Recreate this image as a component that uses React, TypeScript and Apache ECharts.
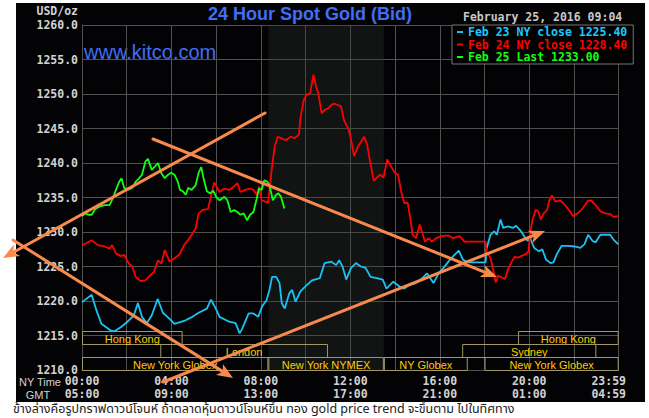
import React, { useEffect, useRef } from 'react';
import * as echarts from 'echarts';

// ---- Data (minutes after 00:00 NY time, price USD/oz) ----
const feb23Name = 'Feb 23 NY close 1225.40';
const feb24Name = 'Feb 24 NY close 1228.40';
const feb25Name = 'Feb 25 Last 1233.00';

const feb23: [number, number][] = [
  [0, 1219.8], [9, 1220.2], [26, 1220.9], [39, 1218.6], [52, 1216.7], [78, 1215.7], [87, 1215.6],
  [104, 1216.2], [122, 1217.0], [139, 1217.9], [150, 1219.7], [161, 1217.7], [174, 1216.8],
  [187, 1217.9], [203, 1220.3], [217, 1218.3], [235, 1217.4], [248, 1216.7], [261, 1216.9],
  [278, 1217.2], [296, 1217.7], [313, 1218.3], [335, 1218.9], [346, 1220.2], [357, 1219.1],
  [369, 1217.7], [395, 1217.0], [412, 1216.8], [423, 1215.3], [430, 1216.0], [447, 1218.2],
  [460, 1218.2], [473, 1217.7], [483, 1219.2], [495, 1220.1], [503, 1221.6], [510, 1223.5],
  [521, 1223.5], [530, 1222.6], [536, 1219.7], [544, 1218.9], [556, 1221.1], [564, 1221.6],
  [573, 1219.9], [586, 1221.4], [603, 1222.3], [617, 1223.0], [638, 1223.3], [651, 1225.5],
  [669, 1225.7], [682, 1225.2], [690, 1225.9], [699, 1225.0], [709, 1223.1], [722, 1224.8],
  [735, 1225.5], [748, 1225.0], [761, 1224.8], [774, 1223.5], [791, 1223.3], [807, 1223.1],
  [817, 1221.8], [835, 1222.8], [852, 1222.1], [865, 1221.8], [878, 1222.3], [896, 1222.6],
  [913, 1223.3], [926, 1224.0], [943, 1222.6], [957, 1224.0], [970, 1224.8], [983, 1225.7],
  [996, 1226.5], [1011, 1227.3], [1022, 1226.0], [1035, 1225.6], [1083, 1225.6], [1085, 1227.5],
  [1096, 1229.6], [1106, 1230.1], [1113, 1229.6], [1123, 1231.8], [1130, 1230.6], [1143, 1230.8],
  [1157, 1230.6], [1165, 1230.9], [1178, 1230.1], [1190, 1229.1], [1196, 1228.7], [1203, 1229.1],
  [1213, 1227.7], [1226, 1227.2], [1235, 1227.5], [1245, 1226.0], [1257, 1225.5], [1265, 1225.6],
  [1274, 1226.8], [1287, 1228.0], [1304, 1228.0], [1322, 1227.9], [1337, 1227.7], [1348, 1228.2],
  [1358, 1229.6], [1370, 1228.7], [1378, 1228.5], [1391, 1229.6], [1404, 1229.6], [1417, 1229.6],
  [1426, 1228.9], [1439, 1228.2],
];

const feb24: [number, number][] = [
  [0, 1228.1], [9, 1228.3], [26, 1228.8], [43, 1228.1], [61, 1227.9], [74, 1227.6], [81, 1228.1],
  [91, 1226.9], [104, 1226.5], [113, 1226.7], [126, 1225.4], [135, 1225.0], [144, 1223.5],
  [157, 1222.9], [170, 1223.0], [183, 1223.7], [193, 1224.2], [204, 1225.9], [213, 1225.4],
  [222, 1227.4], [235, 1225.7], [248, 1226.2], [261, 1226.7], [274, 1228.1], [291, 1229.3],
  [305, 1230.5], [313, 1232.7], [324, 1233.2], [338, 1233.3], [348, 1235.6], [355, 1237.2],
  [369, 1235.8], [382, 1236.3], [395, 1236.1], [408, 1236.6], [417, 1237.1], [425, 1235.8],
  [438, 1236.1], [451, 1236.3], [460, 1236.1], [469, 1235.4], [475, 1236.6], [482, 1234.6],
  [492, 1234.4], [499, 1234.2], [503, 1236.1], [510, 1239.5], [517, 1242.4], [525, 1243.8],
  [534, 1243.6], [547, 1243.3], [560, 1243.8], [570, 1243.6], [582, 1244.1], [586, 1246.5],
  [595, 1249.1], [603, 1249.9], [612, 1250.1], [621, 1252.8], [628, 1251.1], [634, 1250.1],
  [643, 1247.2], [651, 1247.7], [660, 1247.9], [669, 1248.4], [677, 1248.6], [686, 1248.4],
  [695, 1248.2], [703, 1246.2], [715, 1244.9], [722, 1243.4], [730, 1241.0], [739, 1242.2],
  [750, 1243.2], [757, 1243.8], [765, 1242.7], [772, 1240.5], [783, 1237.4], [791, 1237.9],
  [800, 1238.3], [809, 1237.9], [819, 1240.5], [828, 1239.6], [839, 1238.6], [848, 1238.3],
  [857, 1235.7], [865, 1234.2], [874, 1234.2], [880, 1232.3], [887, 1229.6], [896, 1229.1],
  [906, 1231.1], [913, 1229.9], [920, 1228.6], [930, 1229.1], [939, 1228.6], [950, 1229.1],
  [965, 1229.4], [983, 1229.5], [996, 1229.1], [1013, 1229.4], [1026, 1228.6], [1083, 1228.6],
  [1085, 1227.0], [1096, 1226.3], [1103, 1224.6], [1110, 1222.7], [1117, 1223.7], [1126, 1223.4],
  [1135, 1223.2], [1143, 1224.6], [1152, 1225.6], [1161, 1226.4], [1170, 1226.3], [1178, 1226.5],
  [1191, 1226.8], [1198, 1227.2], [1203, 1230.1], [1209, 1231.8], [1217, 1233.2], [1224, 1233.0],
  [1231, 1231.8], [1239, 1232.7], [1248, 1233.2], [1254, 1234.6], [1261, 1235.3], [1270, 1234.4],
  [1283, 1234.6], [1296, 1233.9], [1309, 1233.0], [1317, 1232.3], [1330, 1232.7], [1343, 1233.4],
  [1357, 1234.5], [1365, 1234.6], [1378, 1233.9], [1391, 1233.0], [1404, 1232.7], [1417, 1232.6],
  [1426, 1232.2], [1439, 1232.3],
];

const feb25: [number, number][] = [
  [0, 1232.3], [9, 1232.7], [17, 1232.5], [26, 1232.5], [35, 1233.3], [48, 1233.7], [61, 1233.9],
  [74, 1233.9], [83, 1234.9], [91, 1236.1], [100, 1237.3], [106, 1237.8], [113, 1236.4],
  [122, 1236.1], [135, 1236.4], [144, 1237.3], [152, 1237.7], [161, 1238.3], [170, 1240.2],
  [177, 1240.6], [187, 1239.0], [196, 1239.5], [204, 1240.0], [213, 1238.5], [222, 1237.8],
  [231, 1238.3], [239, 1238.6], [248, 1238.3], [257, 1237.3], [263, 1236.1], [271, 1235.9],
  [278, 1235.4], [285, 1236.4], [294, 1236.1], [305, 1236.8], [313, 1238.6], [320, 1239.4],
  [326, 1237.8], [335, 1235.9], [344, 1235.6], [352, 1236.0], [360, 1235.1], [369, 1234.6],
  [382, 1235.1], [390, 1234.6], [399, 1232.9], [408, 1233.2], [417, 1232.9], [425, 1232.5],
  [434, 1232.7], [443, 1231.7], [451, 1232.5], [460, 1232.9], [469, 1234.9], [475, 1236.3],
  [482, 1236.1], [489, 1237.5], [497, 1237.3], [503, 1236.8], [508, 1235.6], [512, 1234.6],
  [521, 1235.4], [527, 1235.6], [534, 1235.1], [543, 1233.4],
];

// NYMEX pit session shading (minutes)
const nymexStart = 500;
const nymexEnd = 810;

// Market sessions: name, start, end, row (0 = top)
const sessionNames = ['Hong Kong', 'Hong Kong', 'London', 'Sydney', 'New York Globex', 'New York NYMEX', 'NY Globex', 'New York Globex'];
const sessionStarts = [0, 1170, 210, 1020, 0, 500, 810, 1080];
const sessionEnds = [270, 1440, 660, 1380, 500, 810, 1035, 1440];
const sessionRows = [0, 0, 1, 1, 2, 2, 2, 2];

const nyTimeLabels = ['00:00', '04:00', '08:00', '12:00', '16:00', '20:00', '23:59'];
const gmtLabels = ['05:00', '09:00', '13:00', '17:00', '21:00', '01:00', '04:59'];

const titleText = '24 Hour Spot Gold (Bid)';
const siteText = 'www.kitco.com';
const dateText = 'February 25, 2016 09:04';
const unitText = 'USD/oz';
const thaiText = 'ข้างล่างคือรูปกราฟดาวน์โจนห์ ถ้าตลาดหุ้นดาวน์โจนห์ขึ้น ทอง gold price trend จะขึ้นตาม ไปในทิศทาง';

// hand-drawn annotation arrows (pixel coordinates): [x1, y1, tipX, tipY]
const arrows = [
  [265, 113, 3, 258],
  [13, 240, 233, 378],
  [153, 139, 497, 277],
  [163, 382, 545, 231],
];

const MONO = '"DejaVu Sans Mono", monospace';
const SANS = '"Liberation Sans", Arial, sans-serif';
const GREY = '#d2d2d2';
const GRID = '#505050';
const BLUE = '#19c3f5';
const RED = '#ff0000';
const GREEN = '#11ff11';
const ORANGE = '#f78a4c';

function arrowGraphics(a: number[]) {
  const [x1, y1, x2, y2] = a;
  const dx = x2 - x1, dy = y2 - y1;
  const len = Math.hypot(dx, dy);
  const ux = dx / len, uy = dy / len;
  const L = 16, W = 6.5;
  const bx = x2 - ux * L, by = y2 - uy * L;
  const nx = x2 - ux * (L - 4), ny = y2 - uy * (L - 4);
  return [
    {
      type: 'line', z: 100, silent: true,
      shape: { x1, y1, x2: nx, y2: ny },
      style: { stroke: ORANGE, lineWidth: 3, lineCap: 'round' },
    },
    {
      type: 'polygon', z: 100, silent: true,
      shape: { points: [[x2, y2], [bx - uy * W, by + ux * W], [nx, ny], [bx + uy * W, by - ux * W]] },
      style: { fill: ORANGE },
    },
  ];
}

export default function App() {
  const ref = useRef<HTMLDivElement>(null);
  useEffect(() => {
    if (!ref.current) return;
    const chart = echarts.init(ref.current, null, { renderer: 'svg' });
    const sessionData = sessionNames.map((_, i) => [sessionStarts[i], sessionEnds[i], sessionRows[i]]);
    const labelStyle = { color: GREY, fontFamily: MONO, fontWeight: 'bold' as const, fontSize: 11.5, lineHeight: 12.5 };

    chart.setOption({
      animation: false,
      backgroundColor: 'transparent',
      grid: { left: 82, right: 14, top: 25, bottom: 48 },
      xAxis: {
        type: 'value', min: 0, max: 1440, interval: 120,
        axisLine: { show: true, lineStyle: { color: GRID } },
        axisTick: { show: false },
        splitLine: { show: true, lineStyle: { color: GRID, width: 1 } },
        axisLabel: {
          ...labelStyle,
          margin: 5,
          showMaxLabel: true,
          showMinLabel: true,
          formatter: (v: number) => {
            const i = v / 240;
            if (!Number.isInteger(i)) return '';
            const a = nyTimeLabels[i], b = gmtLabels[i];
            if (i === nyTimeLabels.length - 1) return `{e|${a}}\n{e|${b}}`;
            return `${a}\n${b}`;
          },
          rich: { e: { ...labelStyle, padding: [0, 20, 0, 0] } },
        },
      },
      yAxis: {
        type: 'value', min: 1210, max: 1260, interval: 5,
        axisLine: { show: true, lineStyle: { color: GRID } },
        axisTick: { show: false },
        splitLine: { show: true, lineStyle: { color: GRID, width: 1 } },
        axisLabel: { ...labelStyle, margin: 4, formatter: (v: number) => v.toFixed(1) },
      },
      legend: {
        orient: 'vertical', left: 452, top: 25,
        padding: [1, 6, 1, 5], itemGap: 0.5, itemWidth: 6, itemHeight: 2, icon: 'rect',
        backgroundColor: '#000', borderColor: '#777', borderWidth: 1,
        selectedMode: false,
        textStyle: { fontFamily: MONO, fontWeight: 'bold', fontSize: 11.5, lineHeight: 12 },
        data: [
          { name: feb23Name, textStyle: { color: '#1ec8ff' } },
          { name: feb24Name, textStyle: { color: RED } },
          { name: feb25Name, textStyle: { color: GREEN } },
        ],
      },
      graphic: [
        { type: 'text', silent: true, style: { text: titleText, x: 310, y: 14, align: 'center', verticalAlign: 'middle', font: `bold 18px ${SANS}`, fill: '#3f6ff5' } },
        { type: 'text', silent: true, style: { text: siteText, x: 84, y: 52, align: 'left', verticalAlign: 'middle', font: `20px ${SANS}`, fill: '#3f6ff5' } },
        { type: 'text', silent: true, style: { text: unitText, x: 78, y: 11, align: 'right', verticalAlign: 'middle', font: `bold 11.5px ${MONO}`, fill: GREY } },
        { type: 'text', silent: true, style: { text: dateText, x: 463, y: 17, align: 'left', verticalAlign: 'middle', font: `bold 11.5px ${MONO}`, fill: '#c8c8c8' } },
        { type: 'text', silent: true, style: { text: 'NY Time', x: 40, y: 382, align: 'center', verticalAlign: 'middle', font: `11px ${SANS}`, fill: GREY } },
        { type: 'text', silent: true, style: { text: 'GMT', x: 38, y: 395, align: 'center', verticalAlign: 'middle', font: `11px ${SANS}`, fill: GREY } },
        { type: 'text', silent: true, style: { text: thaiText, x: 13, y: 409, align: 'left', verticalAlign: 'middle', font: `12.5px Tahoma, "Noto Sans Thai", "Noto Sans", sans-serif`, fill: '#222' } },
        ...arrows.flatMap(arrowGraphics),
      ],
      series: [
        {
          name: 'sessions', type: 'custom', z: 1, silent: true, clip: false,
          encode: { x: [0, 1], y: 2 },
          data: sessionData,
          renderItem: (params: any, api: any) => {
            const cs = params.coordSys;
            const x0 = api.coord([api.value(0), 1210])[0];
            const x1 = api.coord([api.value(1), 1210])[0];
            const row = api.value(2);
            const rowH = 13;
            const bottom = cs.y + cs.height;
            const y0 = bottom - (3 - row) * rowH;
            return {
              type: 'group',
              children: [
                { type: 'rect', shape: { x: x0 + 0.5, y: y0 + 0.5, width: x1 - x0 - 1, height: rowH }, style: { fill: 'none', stroke: '#a09868', lineWidth: 1 } },
                { type: 'text', style: { text: sessionNames[params.dataIndex], x: (x0 + x1) / 2, y: y0 + rowH / 2 + 1, align: 'center', verticalAlign: 'middle', font: `11px ${SANS}`, fill: '#ffcc00' } },
              ],
            };
          },
        },
        {
          name: feb23Name, type: 'line', data: feb23, showSymbol: false, color: BLUE,
          lineStyle: { width: 1.8, color: BLUE }, z: 3,
          markArea: {
            silent: true,
            itemStyle: { color: 'rgba(50,58,50,0.3)' },
            data: [[{ xAxis: nymexStart }, { xAxis: nymexEnd }]],
          },
        },
        { name: feb24Name, type: 'line', data: feb24, showSymbol: false, color: RED, lineStyle: { width: 1.8, color: RED }, z: 3 },
        { name: feb25Name, type: 'line', data: feb25, showSymbol: false, color: GREEN, lineStyle: { width: 1.8, color: GREEN }, z: 3 },
      ],
    });
    return () => chart.dispose();
  }, []);

  return (
    <div style={{ position: 'fixed', left: 0, top: 0, width: 649, height: 418, background: '#fff' }}>
      <div style={{ position: 'absolute', left: 16, top: 3, width: 629, height: 399, background: '#030305' }} />
      <div ref={ref} style={{ position: 'absolute', left: 0, top: 0, width: 649, height: 418 }} />
    </div>
  );
}
